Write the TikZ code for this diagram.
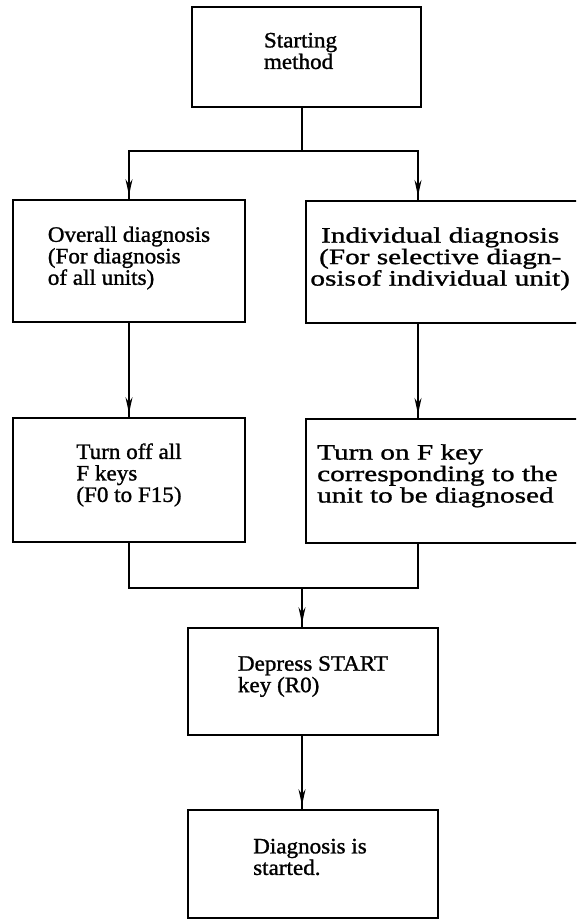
\documentclass[tikz,border=0pt]{standalone}
\usepackage{fontspec}
\setmainfont{Liberation Serif}[FakeStretch=1.05,FakeBold=1.2]
\newfontfamily\widefont{Liberation Serif}[FakeStretch=1.33,FakeBold=1.2]
\usetikzlibrary{arrows.meta,decorations.markings,calc}
\begin{document}
\begin{tikzpicture}[x=1pt,y=-1pt,
  txt/.style={inner sep=0pt,align=left,font=\fontsize{22}{21.5}\selectfont},
  widetxt/.style={txt,font=\fontsize{22}{21.5}\widefont},
  frame/.style={draw,line width=1.6pt,rectangle,inner sep=0pt},
  wire/.style={line width=1.6pt},
  flow/.style={wire,postaction={decorate},
    decoration={markings,mark=at position -4pt with {\arrow{Stealth[length=16pt,width=7pt]}}}}]
\useasboundingbox (0,0) rectangle (576,920);
\fill[white] (0,0) rectangle (576,920);
\clip (0,0) rectangle (576,920);

% boxes
\node[frame,minimum width=229pt,minimum height=100pt] (start) at (306.5,57) {};
\node[frame,minimum width=232pt,minimum height=122pt] (overall) at (129,261) {};
\node[frame,minimum width=295pt,minimum height=122pt,anchor=north west] (indiv) at (305,200) {};
\node[frame,minimum width=232pt,minimum height=124pt] (keysoff) at (129,480) {};
\node[frame,minimum width=295pt,minimum height=124pt,anchor=north west] (keyon) at (305,418) {};
\node[frame,minimum width=250pt,minimum height=107pt] (depress) at (313,681.5) {};
\node[frame,minimum width=250pt,minimum height=108pt] (started) at (313,864) {};

% box texts
\node[txt] (starttext) at ($(start.center)+(-6,-6)$) {Starting\\method};
\node[txt] (overalltext) at ($(overall.center)+(0,-3)$)
  {Overall diagnosis\\(For diagnosis\\of all units)};
\node[widetxt,text width=270pt,align=center,anchor=west] (indivtext) at ($(indiv.west)+(0,-3)$)
  {Individual diagnosis\\(For selective diagn-\\osis\hspace{0.05em}of individual unit)};
\node[txt] (keysofftext) at ($(keysoff.center)+(0,-5)$)
  {Turn off all\\F keys\\(F0 to F15)};
\node[widetxt,anchor=west] (keyontext) at ($(keyon.west)+(12,-5)$)
  {Turn on F key\\corresponding to the\\unit to be diagnosed};
\node[txt] (depresstext) at ($(depress.center)+(0,-5)$) {Depress START\\key (R0)};
\node[txt] (startedtext) at ($(started.center)+(-3,-7)$) {Diagnosis is\\started.};

% junction points
\coordinate (split) at (302,151);
\coordinate (rcol) at (418,0);
\coordinate (merge) at (302,588);

% connectors
\draw[wire] (split |- start.south) -- (split);
\draw[flow] (split) -| (overall.north);
\draw[flow] (split) -| (rcol |- indiv.north);
\draw[flow] (overall.south) -- (keysoff.north);
\draw[flow] (rcol |- indiv.south) -- (rcol |- keyon.north);
\draw[wire] (keysoff.south) |- (merge);
\draw[wire] (rcol |- keyon.south) |- (merge);
\draw[flow] (merge) -- (merge |- depress.north);
\draw[flow] (depress.south -| merge) -- (merge |- started.north);
\end{tikzpicture}
\end{document}
